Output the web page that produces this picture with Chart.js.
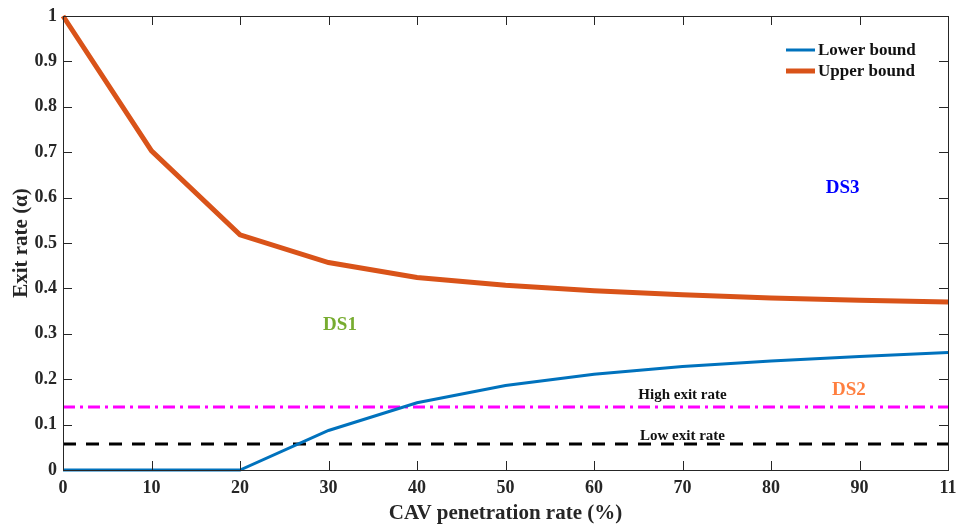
<!DOCTYPE html>
<html>
<head>
<meta charset="utf-8">
<script src="https://cdn.jsdelivr.net/npm/chart.js@4"></script>
<style>
  html, body { margin: 0; padding: 0; background: #fff; }
  #wrap { width: 958px; height: 526px; }
</style>
</head>
<body>
<div id="wrap"><canvas id="myChart" width="958" height="526"></canvas></div>
<script>
// data
var penetration = [0, 10, 20, 30, 40, 50, 60, 70, 80, 90, 100];
var lowerBound = [0, 0, 0, 0.087, 0.148, 0.186, 0.211, 0.228, 0.240, 0.250, 0.259];
var upperBound = [1.0, 0.703, 0.518, 0.457, 0.424, 0.407, 0.395, 0.386, 0.379, 0.374, 0.370];
var highExitRate = 0.139;
var lowExitRate = 0.057;
var xTickLabels = ['0', '10', '20', '30', '40', '50', '60', '70', '80', '90', '11'];
var yTickLabels = ['0', '0.1', '0.2', '0.3', '0.4', '0.5', '0.6', '0.7', '0.8', '0.9', '1'];
var legendNames = ['Lower bound', 'Upper bound'];
var regionNames = ['DS1', 'DS2', 'DS3'];
var refNames = ['High exit rate', 'Low exit rate'];

var serif = "'Liberation Serif', 'Times New Roman', serif";
var ink = '#262626';

function pts(xs, ys) {
     var out = [];
     for (var i = 0; i < xs.length; i++) out.push({x: xs[i], y: ys[i]});
     return out;
}
function flat(v) {
     return [{x: penetration[0], y: v}, {x: penetration[penetration.length - 1], y: v}];
}

// text placed in data coordinates
var notes = [
     {text: regionNames[0], x: 31.3, y: 0.32, color: '#77AC30', size: 19},
     {text: regionNames[1], x: 88.8, y: 0.177, color: '#FF7F3F', size: 19},
     {text: regionNames[2], x: 88.1, y: 0.621, color: '#0000FF', size: 19},
     {text: refNames[0], x: 70, y: 0.166, color: '#111', size: 15},
     {text: refNames[1], x: 70, y: 0.075, color: '#111', size: 15}
];

var boxPlugin = {
     id: 'box',
     afterDatasetsDraw: function (chart) {
          var ctx = chart.ctx, a = chart.chartArea;
          var xs = chart.scales.x, ys = chart.scales.y;
          ctx.save();
          ctx.strokeStyle = ink;
          ctx.lineWidth = 1;
          ctx.strokeRect(Math.round(a.left) + 0.5, Math.round(a.top) + 0.5,
               Math.round(a.right - a.left), Math.round(a.bottom - a.top));
          // inward ticks on all four sides
          ctx.beginPath();
          xs.ticks.forEach(function (t) {
               var px = Math.round(xs.getPixelForValue(t.value)) + 0.5;
               ctx.moveTo(px, a.bottom); ctx.lineTo(px, a.bottom - 9);
               ctx.moveTo(px, a.top); ctx.lineTo(px, a.top + 9);
          });
          ys.ticks.forEach(function (t) {
               var py = Math.round(ys.getPixelForValue(t.value)) + 0.5;
               ctx.moveTo(a.left, py); ctx.lineTo(a.left + 9, py);
               ctx.moveTo(a.right, py); ctx.lineTo(a.right - 9, py);
          });
          ctx.stroke();

          // notes
          ctx.textAlign = 'center';
          ctx.textBaseline = 'middle';
          notes.forEach(function (n) {
               ctx.font = 'bold ' + n.size + 'px ' + serif;
               ctx.fillStyle = n.color;
               ctx.fillText(n.text, xs.getPixelForValue(n.x), ys.getPixelForValue(n.y));
          });

          // legend in the upper right corner
          ctx.textAlign = 'left';
          ctx.font = 'bold 17px ' + serif;
          for (var i = 0; i < legendNames.length; i++) {
               var ds = chart.data.datasets[i];
               var ly = a.top + 34 + i * 21;
               ctx.strokeStyle = ds.borderColor;
               ctx.lineWidth = ds.borderWidth;
               ctx.setLineDash([]);
               ctx.beginPath();
               ctx.moveTo(a.right - 162, ly);
               ctx.lineTo(a.right - 133, ly);
               ctx.stroke();
               ctx.fillStyle = '#111';
               ctx.fillText(legendNames[i], a.right - 130, ly + 1);
          }
          ctx.restore();
     }
};

new Chart('myChart', {
     type: 'line',
     data: {
          datasets: [{
               label: legendNames[0],
               data: pts(penetration, lowerBound),
               borderColor: '#0072BD',
               borderWidth: 3,
               pointRadius: 0,
               clip: false
          }, {
               label: legendNames[1],
               data: pts(penetration, upperBound),
               borderColor: '#D95319',
               borderWidth: 5,
               pointRadius: 0,
               clip: false
          }, {
               label: refNames[0],
               data: flat(highExitRate),
               borderColor: '#FF00FF',
               borderWidth: 3,
               borderDash: [12, 5, 3, 5],
               pointRadius: 0
          }, {
               label: refNames[1],
               data: flat(lowExitRate),
               borderColor: '#000000',
               borderWidth: 3,
               borderDash: [13, 10],
               pointRadius: 0
          }]
     },
     options: {
          responsive: false,
          animation: false,
          layout: {padding: {top: 16, right: 10, left: 0, bottom: 0}},
          plugins: {legend: {display: false}, tooltip: {enabled: false}},
          scales: {
               x: {
                    type: 'linear',
                    min: 0,
                    max: 100,
                    grid: {display: false, drawTicks: false},
                    border: {display: false},
                    ticks: {
                         stepSize: 10,
                         padding: 8,
                         maxRotation: 0,
                         color: ink,
                         font: {family: serif, size: 18, weight: 'bold'},
                         callback: function (v, i) { return xTickLabels[i]; }
                    },
                    title: {
                         display: true,
                         text: 'CAV penetration rate (%)',
                         color: ink,
                         padding: {top: 1, bottom: 0},
                         font: {family: serif, size: 21, weight: 'bold'}
                    },
                    afterFit: function (s) {
                         s.height = 56;
                         s.paddingLeft = 0;
                         s.paddingRight = 0;
                    }
               },
               y: {
                    min: 0,
                    max: 1,
                    grid: {display: false, drawTicks: false},
                    border: {display: false},
                    ticks: {
                         stepSize: 0.1,
                         padding: 6,
                         color: ink,
                         font: {family: serif, size: 18, weight: 'bold'},
                         callback: function (v, i) { return yTickLabels[i]; }
                    },
                    title: {
                         display: true,
                         text: 'Exit rate (α)',
                         color: ink,
                         padding: {top: 9, bottom: 4},
                         font: {family: serif, size: 21, weight: 'bold'}
                    },
                    afterFit: function (s) {
                         s.width = 63;
                         s.paddingTop = 0;
                         s.paddingBottom = 0;
                    }
               }
          }
     },
     plugins: [boxPlugin]
});
</script>
</body>
</html>
